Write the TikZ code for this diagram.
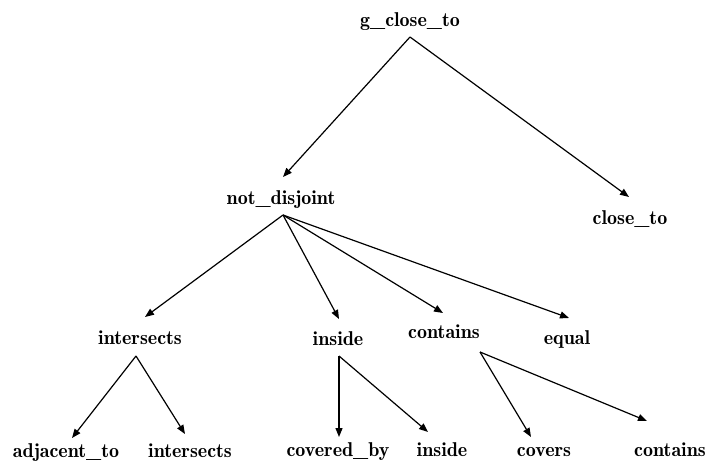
\documentclass[tikz,border=0pt]{standalone}
\usetikzlibrary{arrows.meta}
\begin{document}
\begin{tikzpicture}[x=1pt,y=-1pt,
  lbl/.style={anchor=base,inner sep=0pt,font=\fontsize{20}{24}\fontseries{b}\selectfont},
  arr/.style={line width=1.2pt,-{Triangle[length=9pt,width=7pt]}}]
\useasboundingbox (0,0) rectangle (709,463);
% nodes (center x, baseline y)
\node[lbl] (gct) at (410,26) {g\_close\_to};
\node[lbl] (nd) at (281,204) {not\_disjoint};
\node[lbl] (ct) at (630,224) {close\_to};
\node[lbl] (int1) at (140,344) {intersects};
\node[lbl] (ins1) at (338,345) {inside};
\node[lbl] (con1) at (444,338) {contains};
\node[lbl] (eq) at (567,344) {equal};
\node[lbl] (adj) at (66,457) {adjacent\_to};
\node[lbl] (int2) at (190,457) {intersects};
\node[lbl] (cov) at (338,456) {covered\_by};
\node[lbl] (ins2) at (442,456) {inside};
\node[lbl] (covs) at (544,456) {covers};
\node[lbl] (con2) at (670,456) {contains};
% connectors
\draw[arr] ([shift={(0,11)}]gct.base) -- ([shift={(2,-27)}]nd.base);
\draw[arr] ([shift={(0,11)}]gct.base) -- ([shift={(-1,-27)}]ct.base);
\draw[arr] ([shift={(2,11)}]nd.base) -- ([shift={(5,-27)}]int1.base);
\draw[arr] ([shift={(2,11)}]nd.base) -- ([shift={(1,-26)}]ins1.base);
\draw[arr] ([shift={(2,11)}]nd.base) -- ([shift={(-1,-25)}]con1.base);
\draw[arr] ([shift={(2,11)}]nd.base) -- ([shift={(2,-26)}]eq.base);
\draw[arr] ([shift={(-4,12)}]int1.base) -- ([shift={(6,-19)}]adj.base);
\draw[arr] ([shift={(-4,12)}]int1.base) -- ([shift={(-5,-23)}]int2.base);
\draw[arr] ([shift={(1,11)}]ins1.base) -- ([shift={(1,-19)}]cov.base);
\draw[arr] ([shift={(1,11)}]ins1.base) -- ([shift={(-14,-24)}]ins2.base);
\draw[arr] ([shift={(36,14)}]con1.base) -- ([shift={(-13,-19)}]covs.base);
\draw[arr] ([shift={(36,14)}]con1.base) -- ([shift={(-23,-35)}]con2.base);
\end{tikzpicture}
\end{document}
